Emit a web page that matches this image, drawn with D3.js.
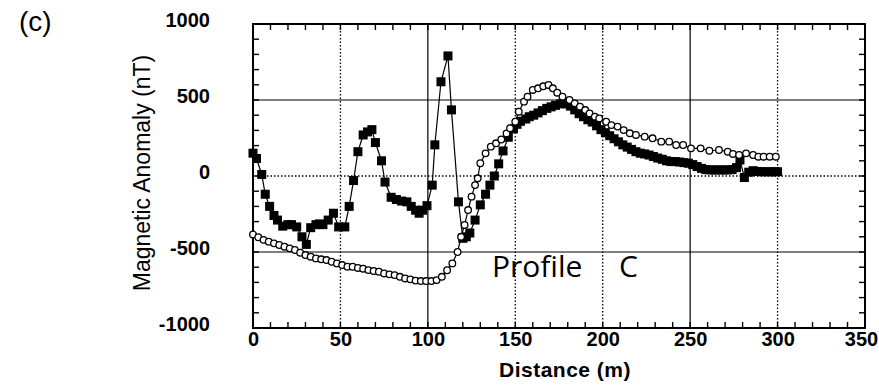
<!DOCTYPE html>
<html>
<head>
<meta charset="utf-8">
<script src="https://cdn.jsdelivr.net/npm/d3@7"></script>
<style>
body { margin: 0; background: #fff; }
svg { display: block; }
</style>
</head>
<body>
<svg id="chart" width="879" height="390"></svg>
<script>
// filled squares (distance m, anomaly nT)
var sqDist = [0, 2, 5, 7, 9.5, 12, 14, 17, 20, 22, 25, 28, 30.5, 33, 36, 38, 40, 43, 46, 49, 52.5, 55, 57.5,
	60, 63, 65.5, 68, 70, 73.5, 75.5, 79, 82, 85, 88, 90.5, 93, 95, 97, 99.5, 102.5, 104, 107.5, 111.5, 113.5,
	117.5, 120, 122, 124, 127, 130, 133, 135.5, 138, 140.5, 143, 146, 149, 151, 153, 156, 158, 160.5, 163,
	165.5, 168, 170.5, 173, 176, 179, 181.5, 184, 186.5, 189, 191.5, 194, 196.5, 199, 201.5, 204, 206.5, 209,
	211.5, 214, 216.5, 219, 221.5, 224, 226.5, 229, 231.5, 234, 236.5, 239, 241.5, 244, 246.5, 249, 251.5,
	254, 256.5, 259, 261.5, 264, 266.5, 269, 271.5, 274, 276.5, 278.5, 281, 283.5, 286, 288.5, 291, 293.5,
	296, 298.5, 300];
var sqVal = [150, 115, 10, -120, -200, -260, -290, -330, -320, -320, -335, -400, -450, -340, -320, -315, -320,
	-290, -245, -335, -335, -200, -30, 160, 270, 290, 305, 220, 100, -40, -140, -155, -165, -170, -200, -225,
	-245, -225, -195, -60, 205, 620, 790, 435, -170, -410, -400, -375, -290, -190, -120, -60, 0, 80, 165, 255,
	310, 340, 360, 375, 390, 400, 415, 430, 445, 455, 465, 475, 475, 460, 435, 410, 390, 370, 355, 330, 305,
	285, 265, 245, 225, 205, 190, 175, 160, 150, 145, 138, 128, 118, 110, 100, 95, 95, 92, 88, 84, 75, 62, 50,
	42, 40, 40, 40, 40, 40, 42, 55, 105, -10, 25, 35, 30, 28, 28, 28, 28, 28];

// open circles
var ciDist = [0, 3, 6, 9, 12, 15, 18, 21, 24, 27, 30, 33, 36, 39, 42, 45, 48, 51, 54, 57, 60, 63, 66, 69, 72,
	75, 78, 81, 84, 87, 90, 93, 96, 99, 102, 105, 108, 111, 114, 117, 119, 121, 123, 125, 127, 128.5, 130, 133,
	136, 139, 142, 145, 147, 150, 152, 155, 157, 160, 163, 166, 169, 171.5, 174, 177, 181, 184, 187, 190,
	192.5, 195.5, 198, 202, 205, 208.5, 212, 215.5, 219, 224, 228.5, 233.5, 238, 242, 246, 250.5, 256, 261,
	266.5, 271.5, 274.5, 278, 282, 286, 289, 292, 295.5, 299];
var ciVal = [-385, -403, -420, -432, -443, -454, -465, -476, -487, -505, -520, -531, -542, -548, -553, -564,
	-575, -586, -597, -597, -605, -610, -619, -625, -630, -641, -647, -652, -663, -674, -680, -688, -691, -691,
	-691, -685, -663, -620, -575, -500, -400, -322, -224, -136, -60, -15, 84, 149, 193, 215, 240, 280, 314, 357,
	423, 489, 522, 566, 577, 590, 599, 577, 548, 522, 500, 478, 456, 434, 412, 390, 379, 357, 335, 325, 302,
	281, 270, 259, 248, 226, 226, 204, 204, 182, 182, 166, 171, 160, 145, 138, 149, 138, 127, 127, 127, 127];

var xTicks = [0, 50, 100, 150, 200, 250, 300, 350];
var yTicks = [-1000, -500, 0, 500, 1000];
var solidX = [100, 250], dottedX = [50, 150, 200, 300];
var solidY = [-500, 500], dottedY = [0];

var squares = sqDist.map(function(d, i) { return {x: d, y: sqVal[i]}; });
var circles = ciDist.map(function(d, i) { return {x: d, y: ciVal[i]}; });

var svg = d3.select("#chart");

var xScale = d3.scaleLinear().domain([0, 350]).range([253, 865]);
var yScale = d3.scaleLinear().domain([-1000, 1000]).range([328, 24]);

var plotL = xScale(0), plotR = xScale(350), plotT = yScale(1000), plotB = yScale(-1000);
var font = "Liberation Sans, Arial, sans-serif";
var plain = function(d) { return String(d); };

// grid
svg.selectAll(".gx").data(solidX.concat(dottedX)).enter().append("line")
	.attr("x1", function(d) { return xScale(d); })
	.attr("x2", function(d) { return xScale(d); })
	.attr("y1", plotT).attr("y2", plotB)
	.attr("stroke", "#000")
	.attr("stroke-width", function(d) { return solidX.indexOf(d) >= 0 ? 1.2 : 1.3; })
	.attr("stroke-dasharray", function(d) { return solidX.indexOf(d) >= 0 ? null : "1.5,2"; });

svg.selectAll(".gy").data(solidY.concat(dottedY)).enter().append("line")
	.attr("y1", function(d) { return yScale(d); })
	.attr("y2", function(d) { return yScale(d); })
	.attr("x1", plotL).attr("x2", plotR)
	.attr("stroke", "#000")
	.attr("stroke-width", function(d) { return solidY.indexOf(d) >= 0 ? 1.2 : 1.3; })
	.attr("stroke-dasharray", function(d) { return solidY.indexOf(d) >= 0 ? null : "1.5,2"; });

// minor ticks inside the frame
var xMinor = d3.range(0, 351, 10);
var yMinor = d3.range(-1000, 1001, 100);
var ticks = svg.append("g").attr("stroke", "#000").attr("stroke-width", 1.4);
xMinor.forEach(function(v) {
	ticks.append("line").attr("x1", xScale(v)).attr("x2", xScale(v)).attr("y1", plotB).attr("y2", plotB - 6);
	ticks.append("line").attr("x1", xScale(v)).attr("x2", xScale(v)).attr("y1", plotT).attr("y2", plotT + 6);
});
yMinor.forEach(function(v) {
	ticks.append("line").attr("y1", yScale(v)).attr("y2", yScale(v)).attr("x1", plotL).attr("x2", plotL + 6);
	ticks.append("line").attr("y1", yScale(v)).attr("y2", yScale(v)).attr("x1", plotR).attr("x2", plotR - 6);
});

// frame
svg.append("rect")
	.attr("x", plotL).attr("y", plotT)
	.attr("width", plotR - plotL).attr("height", plotB - plotT)
	.attr("fill", "none").attr("stroke", "#000").attr("stroke-width", 2);

// tick labels
var xAxis = d3.axisBottom(xScale).tickValues(xTicks).tickSize(0).tickPadding(4).tickFormat(plain);
var gx = svg.append("g").attr("transform", "translate(0," + plotB + ")").call(xAxis);
gx.select(".domain").remove();
gx.selectAll("text").attr("font-family", font)
	.attr("font-size", 20).attr("font-weight", "bold").attr("fill", "#000")
	.attr("dx", function(d) { return d === 350 ? -4 : 0; });

var yAxis = d3.axisLeft(yScale).tickValues(yTicks).tickSize(0).tickPadding(43).tickFormat(plain);
var gy = svg.append("g").attr("transform", "translate(" + plotL + ",0)").call(yAxis);
gy.select(".domain").remove();
gy.selectAll("text").attr("font-family", font)
	.attr("font-size", 20).attr("font-weight", "bold").attr("fill", "#000")
	.attr("dy", "0.12em");

// lines
var line = d3.line().x(function(d) { return xScale(d.x); }).y(function(d) { return yScale(d.y); });

svg.append("path").datum(squares).attr("d", line)
	.attr("fill", "none").attr("stroke", "#000").attr("stroke-width", 1.2);
svg.append("path").datum(circles).attr("d", line)
	.attr("fill", "none").attr("stroke", "#000").attr("stroke-width", 1.2);

svg.selectAll(".sq").data(squares).enter().append("rect")
	.attr("x", function(d) { return xScale(d.x) - 4.5; })
	.attr("y", function(d) { return yScale(d.y) - 4.5; })
	.attr("width", 9).attr("height", 9)
	.attr("fill", "#000");

svg.selectAll(".ci").data(circles).enter().append("circle")
	.attr("cx", function(d) { return xScale(d.x); })
	.attr("cy", function(d) { return yScale(d.y); })
	.attr("r", 3.3)
	.attr("fill", "#fff").attr("stroke", "#000").attr("stroke-width", 1.3);

// labels
svg.append("text")
	.attr("x", 565).attr("y", 377)
	.attr("text-anchor", "middle")
	.attr("font-family", font)
	.attr("font-size", 21).attr("font-weight", "bold")
	.attr("letter-spacing", 0.5)
	.text("Distance (m)");

svg.append("text")
	.attr("transform", "translate(150,173)rotate(-90)")
	.attr("text-anchor", "middle")
	.attr("font-family", font)
	.attr("font-size", 23)
	.text("Magnetic Anomaly (nT)");

svg.append("text")
	.attr("x", 19).attr("y", 31)
	.attr("font-family", font)
	.attr("font-size", 28)
	.text("(c)");

svg.append("text")
	.attr("x", 492).attr("y", 277)
	.attr("font-family", "Open Sans, sans-serif")
	.attr("font-size", 30)
	.text("Profile");

svg.append("text")
	.attr("x", 619).attr("y", 277)
	.attr("font-family", "Open Sans, sans-serif")
	.attr("font-size", 30)
	.text("C");
</script>
</body>
</html>
